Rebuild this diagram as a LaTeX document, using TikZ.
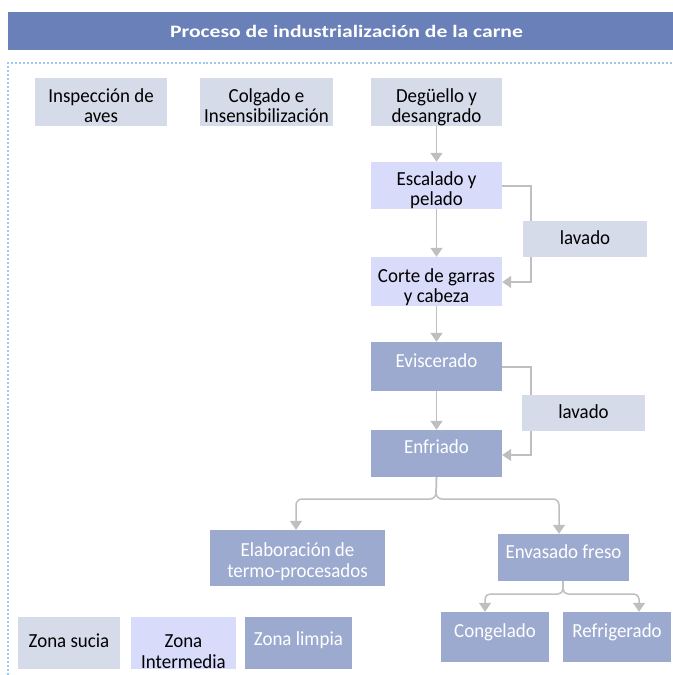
\documentclass[tikz,border=0pt]{standalone}
\usepackage{fontspec}
\setmainfont{Carlito}
\newfontfamily\bodyfont{Carlito}[FakeStretch=0.95]
\newfontfamily\titlefont{Carlito}[FakeStretch=1.24]
\usetikzlibrary{arrows.meta}
\definecolor{hdr}{HTML}{6A80B8}
\definecolor{sucia}{HTML}{D6DBEA}
\definecolor{inter}{HTML}{D9DBFB}
\definecolor{limpia}{HTML}{9CAAD0}
\definecolor{conn}{HTML}{BFBFBF}
\definecolor{dotc}{HTML}{9DC8EE}
\tikzset{
  base/.style={inner sep=0pt, align=center, font=\bodyfont\fontsize{20}{21}\selectfont},
  zs/.style={base, fill=sucia, text=black},
  zi/.style={base, fill=inter, text=black},
  zl/.style={base, fill=limpia, text=white},
  wh/.style 2 args={minimum width=#1bp, minimum height=#2bp},
  link/.style={draw=conn, line width=1.5bp, -{Triangle[width=12bp,length=9bp]}},
}
\newcommand{\tx}[2]{\raisebox{#1bp}[0pt][0pt]{\begin{tabular}{@{}c@{}}#2\end{tabular}}}
\begin{document}
\begin{tikzpicture}[x=1bp,y=-1bp]
\useasboundingbox (0,0) rectangle (673,675);
% header
\node[fill=hdr, minimum width=665bp, minimum height=38bp, inner sep=0pt, text=white,
  font=\titlefont\bfseries\fontsize{17.5}{20}\selectfont] (title) at (340.5,31) {\hspace*{12bp}Proceso de industrialización de la carne};
% dotted frame
\coordinate (fl) at (8,675);
\coordinate (fc) at (8,63);
\coordinate (fr) at (673,63);
\draw[dotc, line width=2bp, dotted] (fl) -- (fc) -- (fr);
\coordinate (e1) at (531,186);
\coordinate (e2) at (531,282);
\coordinate (v1) at (531,367);
\coordinate (v2) at (531,455);
% nodes
\node[zs, wh={132}{48}] (insp) at (101,102) {\tx{-11.5}{Inspección de\\aves}};
\node[zs, wh={133}{48}] (colg) at (266.5,102) {\tx{-11.5}{Colgado e\\Insensibilización}};
\node[zs, wh={131}{48}] (deg) at (436.5,102) {\tx{-11.5}{Degüello y\\desangrado}};
\node[zi, wh={131}{47}] (esc) at (436.5,185.5) {\tx{-11}{Escalado y\\pelado}};
\node[zi, wh={131}{49}] (cor) at (436.5,281.5) {\tx{-12}{Corte de garras\\y cabeza}};
\node[zl, wh={131}{49}] (evi) at (436.5,366.5) {\tx{-2}{Eviscerado}};
\node[zl, wh={131}{47}] (enf) at (436.5,453.5) {\tx{-1}{Enfriado}};
\node[zl, wh={175}{56}] (ela) at (297.5,558) {\tx{-10}{Elaboración de\\termo-procesados}};
\node[zl, wh={131}{47}] (env) at (563.5,557.5) {\tx{-2}{Envasado freso}};
\node[zl, wh={108}{50}] (cong) at (495,637) {\tx{-1}{Congelado}};
\node[zl, wh={108}{50}] (refr) at (617,637) {\tx{-1}{Refrigerado}};
\node[zs, wh={102}{52}] (zs) at (69,643) {\tx{-5.5}{Zona sucia}};
\node[zi, wh={105}{52}] (zi) at (183.5,643) {\tx{-16}{Zona\\Intermedia}};
\node[zl, wh={107}{52}] (zl) at (298.5,643) {\tx{-3.5}{Zona limpia}};
% side connectors under lavado boxes
\draw[link] (esc.east |- e1) -- (e1) -- (e2) -- (cor.east |- e2);
\draw[link] (evi.east |- v1) -- (v1) -- (v2) -- (enf.east |- v2);
\node[zs, wh={124}{36}] (lav1) at (585,239) {\tx{-6.5}{lavado}};
\node[zs, wh={123}{36}] (lav2) at (583.5,413) {\tx{-6.5}{lavado}};
% vertical links
\draw[link] (deg) -- (esc);
\draw[link] (esc) -- (cor);
\draw[link] (cor) -- (evi);
\draw[link] (evi) -- (enf);
% branch from Enfriado
\coordinate (b0) at (436,499);
\coordinate (bl) at (296,499);
\coordinate (br) at (559,499);
\draw[link, rounded corners=6bp] (enf.south) -- (b0) -- (bl) -- (bl |- ela.north);
\draw[link, rounded corners=6bp] (enf.south) -- (b0) -- (br) -- (br |- env.north);
% branch from Envasado
\coordinate (c0) at (563,594);
\coordinate (cl) at (485,594);
\coordinate (cr) at (639,594);
\draw[link, rounded corners=5bp] (env.south -| c0) -- (c0) -- (cl) -- (cl |- cong.north);
\draw[link, rounded corners=5bp] (env.south -| c0) -- (c0) -- (cr) -- (cr |- refr.north);
\end{tikzpicture}
\end{document}
